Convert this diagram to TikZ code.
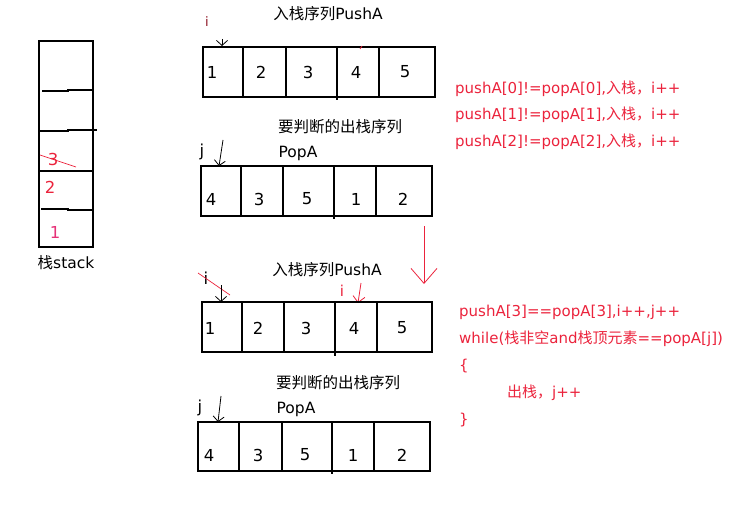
\documentclass[tikz,border=0pt]{standalone}
\usepackage{fontspec}
\setmainfont{DejaVu Sans}
\newfontfamily\cjk{Noto Sans CJK SC}
\usetikzlibrary{arrows.meta}
\definecolor{rd}{RGB}{235,35,60}
\definecolor{pk}{RGB}{230,50,120}
\tikzset{
  bx/.style={draw=black,line width=1.1pt},
  dv/.style={draw=black,line width=1.1pt},
  num/.style={font=\fontsize{16.5}{19}\selectfont,inner sep=0pt},
  lbl/.style={font=\fontsize{15.5}{18}\selectfont,inner sep=0pt},
  rtxt/.style={font=\fontsize{15}{17}\selectfont,text=rd,inner sep=0pt,anchor=west},
  sarrow/.style={draw=black,line width=0.8pt,-{Straight Barb[length=5pt,width=11pt]}},
  rarrow/.style={draw=rd,line width=0.8pt,-{Straight Barb[length=6pt,width=12pt]}},
}
\begin{document}
\begin{tikzpicture}[x=1pt,y=-1pt]
\useasboundingbox (0,0) rectangle (739,508);
% ---- stack ----
\draw[bx] (39,41) rectangle (93,247);
\draw[dv] (42,91) -- (68,91) -- (68,90) -- (93,90);
\draw[dv] (40,131) -- (68,131) -- (68,130) -- (97,130);
\draw[dv] (39,171) -- (93,171);
\draw[dv] (41,209) -- (68,209) -- (68,210) -- (93,210);
\node[num,text=rd] (s3) at (53,159) {3};
\draw[rd,line width=0.7pt] (40,155) -- (76,167);
\node[num,text=rd] (s2) at (50,187) {2};
\node[num,text=pk] (s1) at (55,232) {1};
\node[lbl] (stk) at (66,263) {{\cjk 栈}stack};
% ---- section 1: PushA ----
\node[lbl] (t1) at (328,14) {{\cjk 入栈序列}PushA};
\node[font=\fontsize{13}{14}\selectfont,text=rd!60!black,inner sep=0pt] (i1) at (207,22) {i};
\draw[bx] (203,47) rectangle (435,97);
\draw[dv] (243,47) -- (243,98);
\draw[dv] (286,47) -- (286,97);
\draw[dv] (337,47) -- (337,100);
\draw[dv] (379,47) -- (379,97);
\node[num] (p1) at (212,72) {1};
\node[num] (p2) at (261,72) {2};
\node[num] (p3) at (308,72) {3};
\node[num] (p4) at (356,72) {4};
\node[num] (p5) at (405,72) {5};
\draw[rd,line width=0.8pt] (360,49) -- (362,46);
\coordinate (a1s) at (222,39);
\coordinate (a1e) at (222,46);
\draw[sarrow] (a1s) -- (a1e);
% ---- section 1: PopA ----
\node[lbl,font=\cjk\fontsize{15.5}{18}\selectfont] (t2) at (340,127) {要判断的出栈序列};
\node[lbl] (t3) at (298,153) {PopA};
\node[num] (j1) at (202,152) {j};
\draw[bx] (201,166) rectangle (432,216);
\draw[dv] (241,166) -- (241,217);
\draw[dv] (283,166) -- (283,216);
\draw[dv] (334,166) -- (334,219);
\draw[dv] (376,166) -- (376,216);
\node[num] (q1) at (211,199) {4};
\node[num] (q2) at (259,199) {3};
\node[num] (q3) at (307,199) {5};
\node[num] (q4) at (356,199) {1};
\node[num] (q5) at (403,199) {2};
\coordinate (a2s) at (223,140);
\coordinate (a2e) at (219,166);
\draw[sarrow] (a2s) -- (a2e);
% ---- red text 1 ----
\node[rtxt] (r1) at (455,89) {pushA[0]!=popA[0],{\cjk 入栈，}i++};
\node[rtxt] (r2) at (455,115) {pushA[1]!=popA[1],{\cjk 入栈，}i++};
\node[rtxt] (r3) at (455,142) {pushA[2]!=popA[2],{\cjk 入栈，}i++};
% ---- big red arrow ----
\coordinate (b1) at (424,226);
\coordinate (b2) at (424,284);
\draw[draw=rd,line width=0.8pt,-{Straight Barb[length=15pt,width=26pt]}] (b1) -- (b2);
% ---- section 2: PushA ----
\node[lbl] (t4) at (327,270) {{\cjk 入栈序列}PushA};
\node[num] (i2) at (206,278) {i};
\draw[rd,line width=0.7pt] (198,273) -- (230,295);
\coordinate (a3s) at (221,285);
\coordinate (a3e) at (221,302);
\draw[sarrow] (a3s) -- (a3e);
\node[font=\fontsize{15}{16}\selectfont,text=rd,inner sep=0pt] (i3) at (342,291) {i};
\coordinate (a4s) at (361,283);
\coordinate (a4e) at (358,303);
\draw[rarrow] (a4s) -- (a4e);
\draw[bx] (202,302) rectangle (432,352);
\draw[dv] (242,302) -- (242,353);
\draw[dv] (284,302) -- (284,352);
\draw[dv] (335,302) -- (335,356);
\draw[dv] (377,302) -- (377,352);
\node[num] (u1) at (210,328) {1};
\node[num] (u2) at (258,328) {2};
\node[num] (u3) at (306,328) {3};
\node[num] (u4) at (354,328) {4};
\node[num] (u5) at (402,328) {5};
% ---- section 2: PopA ----
\node[lbl,font=\cjk\fontsize{15.5}{18}\selectfont] (t5) at (338,383) {要判断的出栈序列};
\node[lbl] (t6) at (296,409) {PopA};
\node[num] (j2) at (200,408) {j};
\coordinate (a5s) at (221,396);
\coordinate (a5e) at (218,422);
\draw[sarrow] (a5s) -- (a5e);
\draw[bx] (198,422) rectangle (430,471);
\draw[dv] (239,422) -- (239,472);
\draw[dv] (282,422) -- (282,471);
\draw[dv] (332,422) -- (332,474);
\draw[dv] (374,422) -- (374,471);
\node[num] (v1) at (209,455) {4};
\node[num] (v2) at (258,455) {3};
\node[num] (v3) at (305,455) {5};
\node[num] (v4) at (353,455) {1};
\node[num] (v5) at (402,455) {2};
% ---- red text 2 ----
\node[rtxt] (w1) at (459,312) {pushA[3]==popA[3],i++,j++};
\node[rtxt] (w2) at (459,339) {while({\cjk 栈非空}and{\cjk 栈顶元素}==popA[j])};
\node[rtxt] (w3) at (459,366) {\{};
\node[rtxt] (w4) at (507,393) {{\cjk 出栈，}j++};
\node[rtxt] (w5) at (459,420) {\}};
\end{tikzpicture}
\end{document}
